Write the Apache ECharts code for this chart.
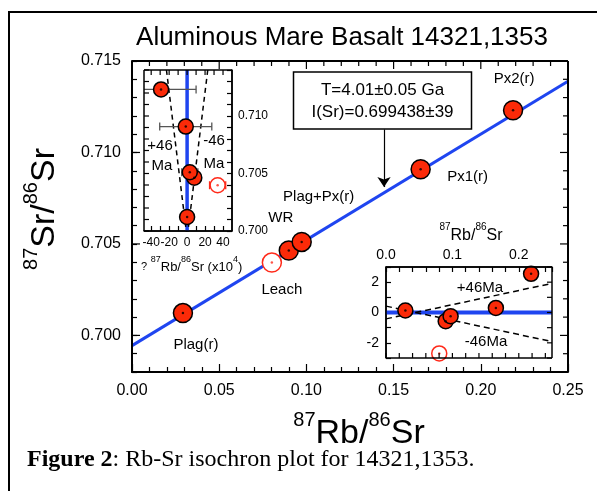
<!DOCTYPE html>
<html><head><meta charset="utf-8">
<script src="https://cdn.jsdelivr.net/npm/echarts@6/dist/echarts.min.js"></script>
<style>html,body{margin:0;padding:0;background:#fff}#c{width:597px;height:491px}</style>
</head><body><div id="c"></div>
<script>
// ---------------- data ----------------
const sampleNames = ['Plag(r)', 'Leach', 'WR', 'Plag+Px(r)', 'Px1(r)', 'Px2(r)'];
const isLeach     = [false, true, false, false, false, false];
const rbSr        = [0.0292, 0.0802, 0.0899, 0.0973, 0.1655, 0.2185];   // 87Rb/86Sr
const srSr        = [0.70122, 0.70398, 0.70464, 0.70511, 0.70908, 0.71231]; // 87Sr/86Sr
const isochronX   = [0, 0.25];
const isochronY   = [0.69944, 0.71389];
// inset 1 : deviation of 87Rb/86Sr (x10^4)
const dRb         = [0, 34, 8, 3, -1.5, -29];
const dRbErr      = [0, 9, 4, 9, 29, 39];
const env1PlusX   = [-23, 0];  const env1PlusY  = [0.714, 0.6994];
const env1MinusX  = [23, 0];   const env1MinusY = [0.714, 0.6994];
// inset 2 : residual 87Sr/86Sr (x10^4)
const dSr         = [0.13, -2.7, -0.57, -0.24, 0.3, 2.55];
const env2PlusX   = [0, 0.25]; const env2PlusY  = [-0.42, 1.92];
const env2MinusX  = [0, 0.25]; const env2MinusY = [0.42, -1.92];
// tick labels / tick positions
const mainYTicks  = [0.700, 0.705, 0.710, 0.715];
const in1XLabels  = [-40, -20, 0, 20, 40];
const in1XTicks   = [-40, -30, -20, -10, 0, 10, 20, 30, 40];
const in1YLabels  = [0.700, 0.705, 0.710];
const in2XLabels  = [0, 0.1, 0.2];
const in2YLabels  = [-2, 0, 2];
// annotation arrow
const arrowX = 0.1445, arrowY = [0.71126, 0.70811];

// ---------------- layout & styles ----------------
const FONT = 'Liberation Sans';
const RED = '#fb2a08', RED2 = '#ff2a1a', BLUE = '#1f45f0';
const labelOffsets = [[13, 32], [10, 27], [-8, -33], [17, -45], [47, 8], [1, -31]];
const GRID = [
  {left: 132, top: 61, width: 436, height: 311},
  {left: 144, top: 70, width: 88, height: 161},
  {left: 386, top: 267, width: 166, height: 91}
];
const RANGE = [
  {xmin: 0, xmax: 0.25, ymin: 0.698, ymax: 0.715},
  {xmin: -48, xmax: 50, ymin: 0.700, ymax: 0.714},
  {xmin: 0, xmax: 0.25, ymin: -3, ymax: 3}
];

function axis(o) {
  const tick = Object.assign({show: true, inside: true, length: 5, lineStyle: {color: '#000', width: 1.2}}, o.tick || {});
  const label = Object.assign({show: false, color: '#000', fontFamily: FONT, showMinLabel: true, showMaxLabel: true, hideOverlap: false}, o.label || {});
  const r = {type: 'value', splitLine: {show: false}, minorSplitLine: {show: false}, silent: true,
    axisLine: {show: true, onZero: false, lineStyle: {color: '#000', width: o.lw || 1.5}}, axisTick: tick, axisLabel: label};
  ['gridIndex', 'position', 'min', 'max', 'interval', 'z', 'minorTick'].forEach(k => { if (o[k] !== undefined) r[k] = o[k]; });
  return r;
}
const zip = (a, b) => a.map((v, i) => [v, b[i]]);
const idx = sampleNames.map((_, i) => i);
const filled = idx.filter(i => !isLeach[i]);
const open = idx.filter(i => isLeach[i]);

const xAxes = [
  axis({gridIndex: 0, position: 'bottom', min: RANGE[0].xmin, max: RANGE[0].xmax, interval: 0.05, lw: 2, tick: {length: 8},
        minorTick: {show: true, splitNumber: 5, length: 5, lineStyle: {color: '#000', width: 1.2}},
        label: {show: true, fontSize: 16, margin: 11, formatter: v => v.toFixed(2)}}),
  axis({gridIndex: 1, position: 'bottom', min: RANGE[1].xmin, max: RANGE[1].xmax, z: 11, tick: {customValues: in1XTicks},
        label: {show: true, fontSize: 12, margin: 6, customValues: in1XLabels}}),
  axis({gridIndex: 2, position: 'top', min: RANGE[2].xmin, max: RANGE[2].xmax, interval: 0.02, z: 11,
        label: {show: true, fontSize: 14, margin: 5, customValues: in2XLabels, formatter: v => v.toFixed(1)}})
];
const yAxes = [
  axis({gridIndex: 0, position: 'left', min: RANGE[0].ymin, max: RANGE[0].ymax, interval: 0.001, lw: 2,
        label: {show: true, fontSize: 16, margin: 11, customValues: mainYTicks, formatter: v => v.toFixed(3)}}),
  axis({gridIndex: 1, position: 'right', min: RANGE[1].ymin, max: RANGE[1].ymax, interval: 0.001, z: 11,
        label: {show: true, fontSize: 12, margin: 6, customValues: in1YLabels, formatter: v => v.toFixed(3)}}),
  axis({gridIndex: 2, position: 'left', min: RANGE[2].ymin, max: RANGE[2].ymax, interval: 1, z: 11,
        label: {show: true, fontSize: 14, margin: 7, customValues: in2YLabels}})
];

function pointSeries(xi, yi, xs, ys, size, z, withLabels) {
  const lab = i => ({show: true, formatter: sampleNames[i], position: 'inside', offset: labelOffsets[i],
    color: '#000', fontSize: 15, fontFamily: FONT});
  return [
    {type: 'scatter', xAxisIndex: xi, yAxisIndex: yi, z: z, symbolSize: size, silent: true,
      itemStyle: {color: RED, borderColor: '#000', borderWidth: 1.5, opacity: 1},
      data: filled.map(i => withLabels ? {value: [xs[i], ys[i]], label: lab(i)} : [xs[i], ys[i]])},
    {type: 'scatter', xAxisIndex: xi, yAxisIndex: yi, z: z, symbolSize: size, silent: true,
      itemStyle: {color: '#fff', borderColor: RED2, borderWidth: 1.5, opacity: 1},
      data: open.map(i => withLabels ? {value: [xs[i], ys[i]], label: lab(i)} : [xs[i], ys[i]])},
    {type: 'scatter', xAxisIndex: xi, yAxisIndex: yi, z: z + 1, symbolSize: 2.5, silent: true,
      itemStyle: {color: '#000'}, data: filled.map(i => [xs[i], ys[i]])},
    {type: 'scatter', xAxisIndex: xi, yAxisIndex: yi, z: z + 1, symbolSize: 2.5, silent: true,
      itemStyle: {color: RED2}, data: open.map(i => [xs[i], ys[i]])}
  ];
}
function lineS(xi, yi, xs, ys, style, z) {
  return {type: 'line', xAxisIndex: xi, yAxisIndex: yi, z: z, symbol: 'none', silent: true, clip: true,
    lineStyle: style, data: zip(xs, ys)};
}

const series = [
  Object.assign(lineS(0, 0, isochronX, isochronY, {color: BLUE, width: 3}, 2), {
    markLine: {silent: true, symbol: ['none', 'arrow'], symbolSize: 10, label: {show: false},
      lineStyle: {color: '#000', width: 1.2, type: 'solid'},
      data: [[{coord: [arrowX, arrowY[0]]}, {coord: [arrowX, arrowY[1]]}]]}
  }),
  ...pointSeries(0, 0, rbSr, srSr, 19, 4, true),
  // inset 1
  lineS(1, 1, [0, 0], [0.700, 0.714], {color: BLUE, width: 3.5}, 12),
  lineS(1, 1, env1PlusX, env1PlusY, {color: '#000', width: 1.5, type: [5, 4]}, 12),
  lineS(1, 1, env1MinusX, env1MinusY, {color: '#000', width: 1.5, type: [5, 4]}, 12),
  {type: 'custom', xAxisIndex: 1, yAxisIndex: 1, z: 13, clip: true, silent: true,
    data: idx.filter(i => dRbErr[i] > 0).map(i => [dRb[i], srSr[i], dRbErr[i], isLeach[i] ? 1 : 0]),
    renderItem: function (params, api) {
      const x = api.value(0), y = api.value(1), e = api.value(2);
      const p1 = api.coord([x - e, y]), p2 = api.coord([x + e, y]);
      const h = 4;
      const st = {stroke: api.value(3) ? RED2 : '#555', lineWidth: 1.3};
      return {type: 'group', children: [
        {type: 'line', shape: {x1: p1[0], y1: p1[1], x2: p2[0], y2: p2[1]}, style: st},
        {type: 'line', shape: {x1: p1[0], y1: p1[1] - h, x2: p1[0], y2: p1[1] + h}, style: st},
        {type: 'line', shape: {x1: p2[0], y1: p2[1] - h, x2: p2[0], y2: p2[1] + h}, style: st}
      ]};
    }},
  ...pointSeries(1, 1, dRb, srSr, 15, 14, false),
  // inset 2
  lineS(2, 2, [0, 0.25], [0, 0], {color: BLUE, width: 4}, 12),
  lineS(2, 2, env2PlusX, env2PlusY, {color: '#000', width: 1.5, type: [6, 4]}, 12),
  lineS(2, 2, env2MinusX, env2MinusY, {color: '#000', width: 1.5, type: [6, 4]}, 12),
  ...pointSeries(2, 2, rbSr, dSr, 15, 14, false)
];

function txt(x, y, text, size, opts) {
  return Object.assign({type: 'text', x: x, y: y, z: 100, silent: true,
    style: Object.assign({text: text, fontSize: size, fontFamily: FONT, fill: '#000', align: 'center', verticalAlign: 'middle'}, (opts && opts.style) || {})},
    (opts && opts.el) || {});
}
const bigRich = {
  s: {fontSize: 20, lineHeight: 20, verticalAlign: 'top', fontFamily: FONT, fill: '#000'},
  m: {fontSize: 34, lineHeight: 48, fontFamily: FONT, fill: '#000'}
};
const graphics = [
  {type: 'polyline', z: 100, silent: true, shape: {points: [[9, 491], [9, 12], [597, 12]]}, style: {stroke: '#000', lineWidth: 2, fill: null}},
  txt(342, 38, 'Aluminous Mare Basalt 14321,1353', 26),
  txt(359, 434, '{s|87}{m|Rb/}{s|86}{m|Sr}', 34, {style: {rich: bigRich}}),
  txt(45, 209, '{s|87}{m|Sr/}{s|86}{m|Sr}', 34, {style: {rich: bigRich}, el: {rotation: Math.PI / 2}}),
  txt(27, 460, '{b|Figure 2}{r|: Rb-Sr isochron plot for 14321,1353.}', 24, {style: {align: 'left', rich: {
    b: {fontSize: 24, fontWeight: 'bold', fontFamily: 'Liberation Serif', fill: '#000'},
    r: {fontSize: 24, fontFamily: 'Liberation Serif', fill: '#000'}}}}),
  {type: 'rect', z: 100, silent: true, shape: {x: 293.5, y: 72, width: 178, height: 57}, style: {fill: '#fff', stroke: '#000', lineWidth: 1.5}},
  txt(382.5, 90.5, 'T=4.01±0.05 Ga', 17),
  txt(382.5, 112, 'I(Sr)=0.699438±39', 17),
  // inset 1 texts
  txt(141, 267, '{q|?} {s|87}{m|Rb/}{s|86}{m|Sr (x10}{s|4}{m|)}', 13, {style: {align: 'left', rich: {
    q: {fontSize: 11, lineHeight: 24, fontFamily: FONT, fill: '#000'},
    s: {fontSize: 9, lineHeight: 9, verticalAlign: 'top', fontFamily: FONT, fill: '#000'},
    m: {fontSize: 13, lineHeight: 24, fontFamily: FONT, fill: '#000'}}}}),
  txt(160, 146, '+46', 15), txt(162, 166, 'Ma', 15),
  txt(214, 141, '-46', 15), txt(214, 164, 'Ma', 15),
  // inset 2 texts
  txt(471, 236, '{s|87}{m|Rb/}{s|86}{m|Sr}', 16, {style: {rich: {
    s: {fontSize: 10, lineHeight: 10, verticalAlign: 'top', fontFamily: FONT, fill: '#000'},
    m: {fontSize: 16, lineHeight: 28, fontFamily: FONT, fill: '#000'}}}}),
  txt(480, 288, '+46Ma', 15), txt(486, 342, '-46Ma', 15)
];

// ---- plot frames and mirrored ticks, from the same grid layout and axis ranges ----
const mapX = (g, v) => GRID[g].left + (v - RANGE[g].xmin) / (RANGE[g].xmax - RANGE[g].xmin) * GRID[g].width;
const mapY = (g, v) => GRID[g].top + GRID[g].height - (v - RANGE[g].ymin) / (RANGE[g].ymax - RANGE[g].ymin) * GRID[g].height;
function seg(x1, y1, x2, y2, lw) {
  graphics.push({type: 'line', z: 150, silent: true, shape: {x1: x1, y1: y1, x2: x2, y2: y2},
    style: {stroke: '#000', lineWidth: lw, fill: null}});
}
function frame(g, lw) {
  const L = GRID[g].left, T = GRID[g].top, Rr = L + GRID[g].width, B = T + GRID[g].height;
  seg(L, T, Rr, T, lw); seg(Rr, T, Rr, B, lw); seg(L, B, Rr, B, lw); seg(L, T, L, B, lw);
}
function tick(g, side, v, len) {
  const L = GRID[g].left, T = GRID[g].top, Rr = L + GRID[g].width, B = T + GRID[g].height;
  if (side === 'top') { const x = mapX(g, v); seg(x, T, x, T + len, 1.2); }
  else if (side === 'bottom') { const x = mapX(g, v); seg(x, B, x, B - len, 1.2); }
  else if (side === 'left') { const y = mapY(g, v); seg(L, y, L + len, y, 1.2); }
  else { const y = mapY(g, v); seg(Rr, y, Rr - len, y, 1.2); }
}
frame(0, 2);
for (let k = 0; k <= 25; k++) tick(0, 'top', k / 100, k % 5 === 0 ? 8 : 5);
for (let k = 698; k <= 715; k++) tick(0, 'right', k / 1000, k % 5 === 0 ? 8 : 5);
mainYTicks.forEach(v => tick(0, 'left', v, 8));
frame(1, 1.5);
in1XTicks.forEach(v => tick(1, 'top', v, 5));
for (let k = 700; k <= 714; k++) tick(1, 'left', k / 1000, 5);
frame(2, 1.5);
for (let k = 0; k <= 12; k++) tick(2, 'bottom', k * 0.02, 5);
for (let k = -3; k <= 3; k++) tick(2, 'right', k, 5);

const chart = echarts.init(document.getElementById('c'), null, {renderer: 'canvas'});
chart.setOption({
  animation: false,
  backgroundColor: '#fff',
  grid: [
    Object.assign({show: false, containLabel: false}, GRID[0]),
    Object.assign({show: true, backgroundColor: '#fff', borderWidth: 0, z: 10, containLabel: false}, GRID[1]),
    Object.assign({show: true, backgroundColor: '#fff', borderWidth: 0, z: 10, containLabel: false}, GRID[2])
  ],
  xAxis: xAxes,
  yAxis: yAxes,
  series: series,
  graphic: {elements: graphics}
});
</script></body></html>
